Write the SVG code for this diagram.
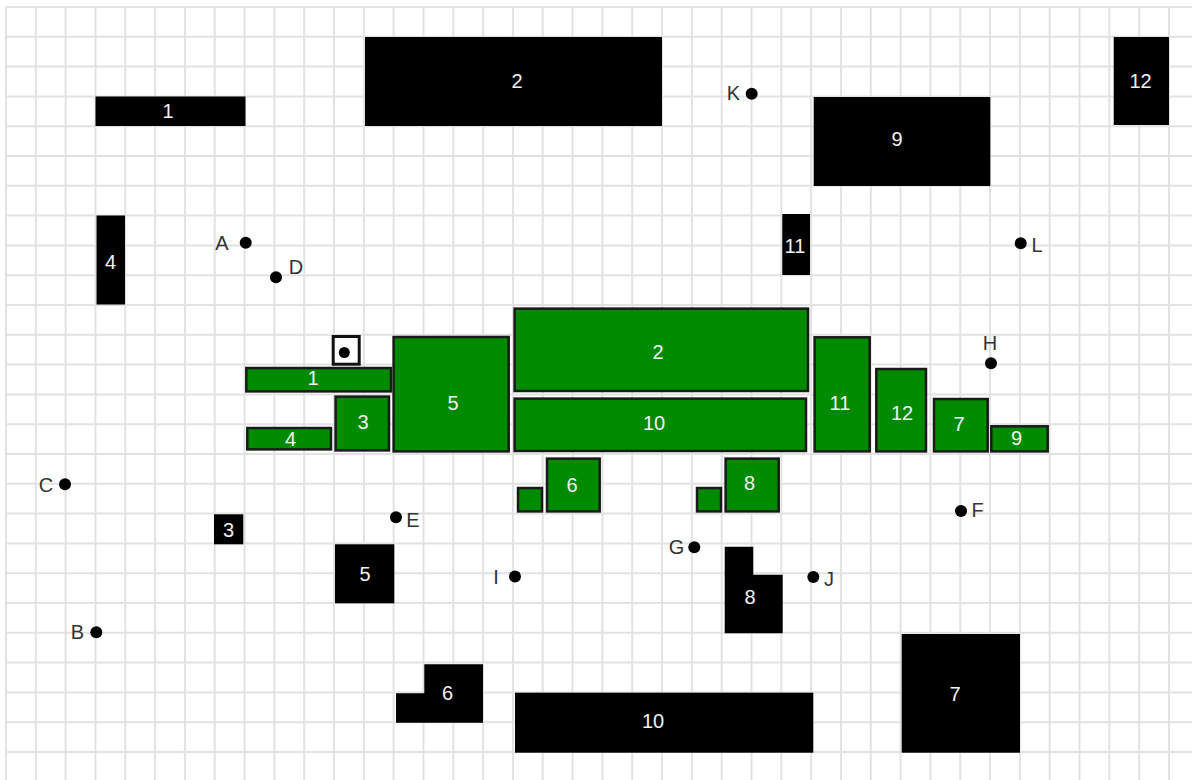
<svg xmlns="http://www.w3.org/2000/svg" width="1192" height="780" viewBox="0 0 1192 780">
<style>
.grid{fill:none;stroke:#e2e2e2;stroke-width:2}
.blk{fill:#000}
.grn{fill:#008a00;stroke:#1a1a1a;stroke-width:2.5}
.lbl{font-family:"Liberation Sans",Arial,sans-serif;font-size:20px;fill:#f2f2f2;text-anchor:middle}
.pt{fill:#000}
.ptl{font-family:"Liberation Sans",Arial,sans-serif;font-size:20px;fill:#333;text-anchor:middle}
</style>
<rect width="1192" height="780" fill="#fff"/>
<path class="grid" d="M6 7V780M35.82 7V780M65.64 7V780M95.46 7V780M125.28 7V780M155.1 7V780M184.92 7V780M214.74 7V780M244.56 7V780M274.38 7V780M304.2 7V780M334.02 7V780M363.84 7V780M393.66 7V780M423.48 7V780M453.3 7V780M483.12 7V780M512.94 7V780M542.76 7V780M572.58 7V780M602.4 7V780M632.22 7V780M662.04 7V780M691.86 7V780M721.68 7V780M751.5 7V780M781.32 7V780M811.14 7V780M840.96 7V780M870.78 7V780M900.6 7V780M930.42 7V780M960.24 7V780M990.06 7V780M1019.88 7V780M1049.7 7V780M1079.52 7V780M1109.34 7V780M1139.16 7V780M1168.98 7V780M6 7H1192M6 36.8H1192M6 66.6H1192M6 96.4H1192M6 126.2H1192M6 156H1192M6 185.8H1192M6 215.6H1192M6 245.4H1192M6 275.2H1192M6 305H1192M6 334.8H1192M6 364.6H1192M6 394.4H1192M6 424.2H1192M6 454H1192M6 483.8H1192M6 513.6H1192M6 543.4H1192M6 573.2H1192M6 603H1192M6 632.8H1192M6 662.6H1192M6 692.4H1192M6 722.2H1192M6 752H1192"/>

<g id="black-pieces">
<g id="b1"><rect class="blk" x="95.5" y="96.5" width="150" height="29.5"/><text class="lbl" x="168" y="118">1</text></g>
<g id="b2"><rect class="blk" x="365" y="37" width="297" height="89"/><text class="lbl" x="517" y="88">2</text></g>
<g id="b3"><rect class="blk" x="214" y="514.3" width="29.3" height="30"/><text class="lbl" x="228.5" y="537">3</text></g>
<g id="b4"><rect class="blk" x="96.5" y="215.5" width="28.5" height="89"/><text class="lbl" x="110.5" y="269">4</text></g>
<g id="b5"><rect class="blk" x="335" y="544.3" width="59.3" height="59"/><text class="lbl" x="365" y="581">5</text></g>
<g id="b6"><path class="blk" d="M424.3 664.3H483V722.7H396V693.3H424.3Z"/><text class="lbl" x="447.5" y="699.5">6</text></g>
<g id="b7"><rect class="blk" x="901.7" y="634" width="118.3" height="118.7"/><text class="lbl" x="955" y="701">7</text></g>
<g id="b8"><path class="blk" d="M724.7 546.7H753.3V574.7H782.7V633.3H724.7Z"/><text class="lbl" x="750" y="604">8</text></g>
<g id="b9"><rect class="blk" x="813.7" y="97" width="176.6" height="89"/><text class="lbl" x="897" y="145.5">9</text></g>
<g id="b10"><rect class="blk" x="515" y="692.7" width="298.3" height="60"/><text class="lbl" x="653" y="728">10</text></g>
<g id="b11"><rect class="blk" x="782.3" y="214" width="27.7" height="61"/><text class="lbl" x="795" y="253">11</text></g>
<g id="b12"><rect class="blk" x="1113.7" y="37" width="55.3" height="88"/><text class="lbl" x="1140.5" y="88">12</text></g>
</g>

<g id="green-figure">
<g id="marker-box"><rect x="333.2" y="336.5" width="26" height="27.7" fill="#fff" stroke="#111" stroke-width="3"/><circle cx="344.3" cy="352.5" r="5.5" fill="#000"/></g>
<g id="g1"><rect class="grn" x="246.3" y="368" width="144.7" height="23.4"/><text class="lbl" x="313" y="385">1</text></g>
<g id="g2"><rect class="grn" x="514.6" y="308.6" width="293.4" height="82.4"/><text class="lbl" x="658" y="358.5">2</text></g>
<g id="g3"><rect class="grn" x="335.6" y="396.6" width="53.4" height="53.8"/><text class="lbl" x="363" y="429">3</text></g>
<g id="g4"><rect class="grn" x="247.3" y="428" width="83.7" height="21.4"/><text class="lbl" x="290.5" y="446">4</text></g>
<g id="g5"><rect class="grn" x="393.6" y="337" width="115.1" height="114.4"/><text class="lbl" x="453" y="410">5</text></g>
<g id="g6"><rect class="grn" x="518" y="488" width="24" height="23.4"/><rect class="grn" x="547" y="458.6" width="52.7" height="52.8"/><text class="lbl" x="572" y="492">6</text></g>
<g id="g7"><rect class="grn" x="934" y="399" width="53.7" height="52.4"/><text class="lbl" x="959" y="431">7</text></g>
<g id="g8"><rect class="grn" x="697" y="488" width="24" height="23.4"/><rect class="grn" x="725.6" y="458.6" width="53.1" height="52.8"/><text class="lbl" x="749.5" y="490">8</text></g>
<g id="g9"><rect class="grn" x="991.3" y="426.3" width="56.4" height="25.1"/><text class="lbl" x="1016.5" y="444.5">9</text></g>
<g id="g10"><rect class="grn" x="514.6" y="398.6" width="291.4" height="52.4"/><text class="lbl" x="654" y="430">10</text></g>
<g id="g11"><rect class="grn" x="814.6" y="337.3" width="55.1" height="114.1"/><text class="lbl" x="840" y="409.5">11</text></g>
<g id="g12"><rect class="grn" x="876.3" y="369" width="49.7" height="82.4"/><text class="lbl" x="902" y="419.5">12</text></g>
</g>

<g id="points">
<g id="pA"><circle class="pt" cx="245.7" cy="242.7" r="6"/><text class="ptl" x="222" y="249.5">A</text></g>
<g id="pB"><circle class="pt" cx="96.3" cy="632.3" r="6"/><text class="ptl" x="77.5" y="638.5">B</text></g>
<g id="pC"><circle class="pt" cx="65" cy="484.3" r="6"/><text class="ptl" x="46" y="491.5">C</text></g>
<g id="pD"><circle class="pt" cx="276" cy="277.3" r="6"/><text class="ptl" x="296" y="273.5">D</text></g>
<g id="pE"><circle class="pt" cx="396" cy="517.3" r="6"/><text class="ptl" x="413" y="526.5">E</text></g>
<g id="pF"><circle class="pt" cx="961" cy="511" r="6"/><text class="ptl" x="977.5" y="517">F</text></g>
<g id="pG"><circle class="pt" cx="694.3" cy="547.3" r="6"/><text class="ptl" x="676.5" y="553.5">G</text></g>
<g id="pH"><circle class="pt" cx="991" cy="363.3" r="6"/><text class="ptl" x="990" y="350">H</text></g>
<g id="pI"><circle class="pt" cx="515" cy="576.5" r="6"/><text class="ptl" x="496" y="584">I</text></g>
<g id="pJ"><circle class="pt" cx="813.3" cy="577" r="6"/><text class="ptl" x="829" y="586">J</text></g>
<g id="pK"><circle class="pt" cx="751.7" cy="93.7" r="6"/><text class="ptl" x="733.5" y="99.5">K</text></g>
<g id="pL"><circle class="pt" cx="1020.7" cy="243.3" r="6"/><text class="ptl" x="1037" y="252">L</text></g>
</g>
</svg>
